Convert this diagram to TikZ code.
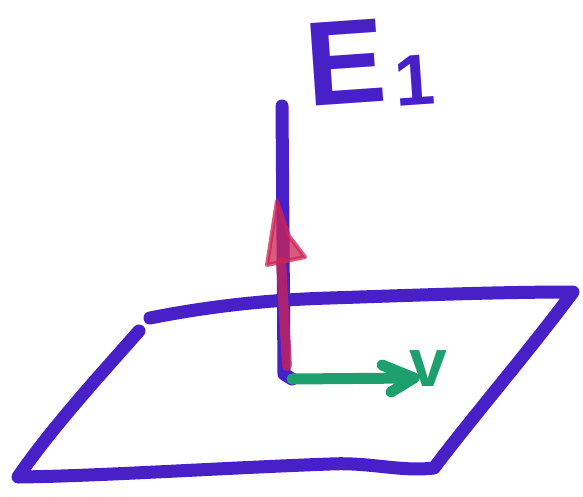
\documentclass[tikz,border=0pt]{standalone}
\usepackage{fontspec}
\newfontfamily\handfont{Liberation Sans}
\usetikzlibrary{calc}
\definecolor{pen}{RGB}{72,32,200}
\definecolor{redpen}{RGB}{205,35,85}
\definecolor{greenpen}{RGB}{30,160,110}
\tikzset{
  penline/.style={line width=6.5pt, line cap=round, line join=round, draw=pen},
  redline/.style={line width=5pt, line cap=round, line join=round, draw=redpen, fill=redpen, opacity=0.75},
  greenline/.style={line width=5.5pt, line cap=round, line join=round, draw=greenpen},
  handlabel/.style={inner sep=0pt}
}
\begin{document}
\begin{tikzpicture}[x=0.5pt,y=-0.5pt]
\fill[white] (0,0) rectangle (583,497);
\useasboundingbox (0,0) rectangle (583,497);
% parallelogram corners
\coordinate (tl) at (150,318);
\coordinate (tr) at (573,292);
\coordinate (br) at (434,468);
\coordinate (bl) at (18,477);
\coordinate (lt) at (139,331);
% vertical line
\coordinate (vtop) at (282,106);
\coordinate (vbot) at (284,374);
\coordinate (corner) at (292,379);
\coordinate (gtip) at (414,378);
% plane
\draw[penline] (tl) .. controls (200,308) and (260,300) .. (330,298)
  .. controls (420,295) and (500,292) .. (tr)
  .. controls (530,350) and (470,420) .. (br)
  .. controls (400,472) and (370,462) .. (330,464)
  .. controls (220,468) and (100,476) .. (bl)
  .. controls (50,430) and (100,375) .. (lt);
% vertical line E1
\draw[penline] (vtop) -- (vbot) -- (corner);
% red arrow
\draw[redline] (287,366) -- (281,262);
\filldraw[redline, line width=2pt] (277,201) -- (267,265) -- (305,257) -- (289,236) -- cycle;
% green arrow
\draw[greenline] (corner) -- (gtip);
\draw[greenline] (382,365) -- (gtip) -- (391,392);
% labels
\node[handlabel, text=pen, rotate=4, anchor=base west, font=\handfont\bfseries\fontsize{60}{62}\selectfont] (E1) at (308,107) {E\hspace{4pt}\raisebox{-3pt}{\fontsize{36}{38}\selectfont 1}};
\node[handlabel, text=greenpen, font=\handfont\bfseries\fontsize{34}{36}\selectfont] (v) at (428,369) {v};
\end{tikzpicture}
\end{document}
